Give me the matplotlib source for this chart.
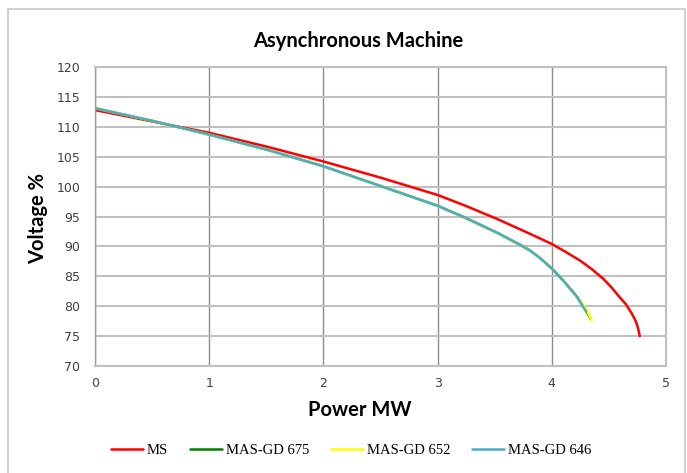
import matplotlib.pyplot as plt
import matplotlib.patches as patches

# P-V curves (power in MW, voltage in %)
p_ms = [0, 0.5, 1, 1.5, 2, 2.5, 3, 3.23, 3.52, 3.81, 4.0, 4.12, 4.25, 4.35, 4.45, 4.52, 4.59, 4.65, 4.70, 4.735, 4.755, 4.77]
v_ms = [112.8, 110.9, 109.0, 106.7, 104.2, 101.5, 98.6, 96.9, 94.6, 92.1, 90.4, 89.1, 87.6, 86.2, 84.6, 83.2, 81.6, 80.3, 78.8, 77.5, 76.4, 75.0]

p_675 = [0, 0.5, 1, 1.5, 2, 2.5, 3, 3.23, 3.52, 3.72, 3.81, 3.9, 4.0, 4.10, 4.22, 4.29, 4.34]
v_675 = [113.1, 111.0, 108.7, 106.2, 103.4, 100.1, 96.8, 94.9, 92.3, 90.3, 89.3, 88.0, 86.3, 84.3, 81.6, 79.6, 77.9]

p_652 = [0, 0.5, 1, 1.5, 2, 2.5, 3, 3.23, 3.52, 3.72, 3.81, 3.9, 4.0, 4.10, 4.22, 4.30, 4.35]
v_652 = [113.1, 111.0, 108.7, 106.2, 103.4, 100.1, 96.8, 94.9, 92.3, 90.3, 89.3, 88.0, 86.3, 84.3, 81.6, 79.6, 77.6]

p_646 = [0, 0.5, 1, 1.5, 2, 2.5, 3, 3.23, 3.52, 3.72, 3.81, 3.9, 4.0, 4.10, 4.22, 4.30]
v_646 = [113.1, 111.0, 108.7, 106.2, 103.4, 100.1, 96.8, 94.9, 92.3, 90.3, 89.3, 88.0, 86.3, 84.3, 81.6, 79.1]

x_ticks = [0, 1, 2, 3, 4, 5]
y_ticks = [70, 75, 80, 85, 90, 95, 100, 105, 110, 115, 120]

fig = plt.figure(figsize=(6.87, 4.73), dpi=100)
ax = fig.add_axes([95/687, 1-366/473, 571/687, 299/473])

# chart border
fig.patches.append(patches.Rectangle((8/687, -0.05), 677/687, 1.05-9/473,
                                     transform=fig.transFigure, fill=False,
                                     edgecolor='#c8c8c8', linewidth=1.2))

kw = dict(lw=1.8, solid_joinstyle='round', solid_capstyle='round')
ax.plot(p_ms, v_ms, color='#ff0000', label='MS', **kw)
ax.plot(p_675, v_675, color='#008000', label='MAS-GD 675', **kw)
ax.plot(p_652, v_652, color='#ffff00', label='MAS-GD 652', **kw)
ax.plot(p_646, v_646, color='#4bacc6', label='MAS-GD 646', **kw)

ax.set_xlim(0, 5)
ax.set_ylim(70, 120)
ax.set_xticks(x_ticks)
ax.set_yticks(y_ticks)
ax.tick_params(axis='y', length=0, labelsize=9, labelcolor='#404040', pad=10.5)
ax.tick_params(axis='x', length=0, labelsize=9, labelcolor='#404040', pad=8)

ax.yaxis.grid(True, color='#c0c0c0', lw=1.5)
ax.xaxis.grid(True, color='#8c8c8c', lw=1.0)
ax.set_axisbelow(True)
for s in ax.spines.values():
    s.set_color('#c0c0c0')
    s.set_linewidth(1.5)
ax.spines['left'].set_color('#a0a0a0')
ax.spines['left'].set_linewidth(1.0)

fig.text(358/687, 1-41/473, 'Asynchronous Machine', family='Lato', weight='bold',
         fontsize=14.5, ha='center', va='center')
fig.text(360/687, 1-410/473, 'Power MW', family='Lato', weight='bold',
         fontsize=14.5, ha='center', va='center')
fig.text(38/687, 1-218/473, 'Voltage %', family='Lato', weight='bold',
         fontsize=14.5, ha='center', va='center', rotation=90)

fig.legend(loc='center', bbox_to_anchor=(351/687, 1-450/473), ncol=4, frameon=False,
           prop={'family': 'Liberation Serif', 'size': 10.5}, handlelength=2.2,
           handletextpad=0.25, columnspacing=1.5)

plt.savefig('out.png', dpi=100)
